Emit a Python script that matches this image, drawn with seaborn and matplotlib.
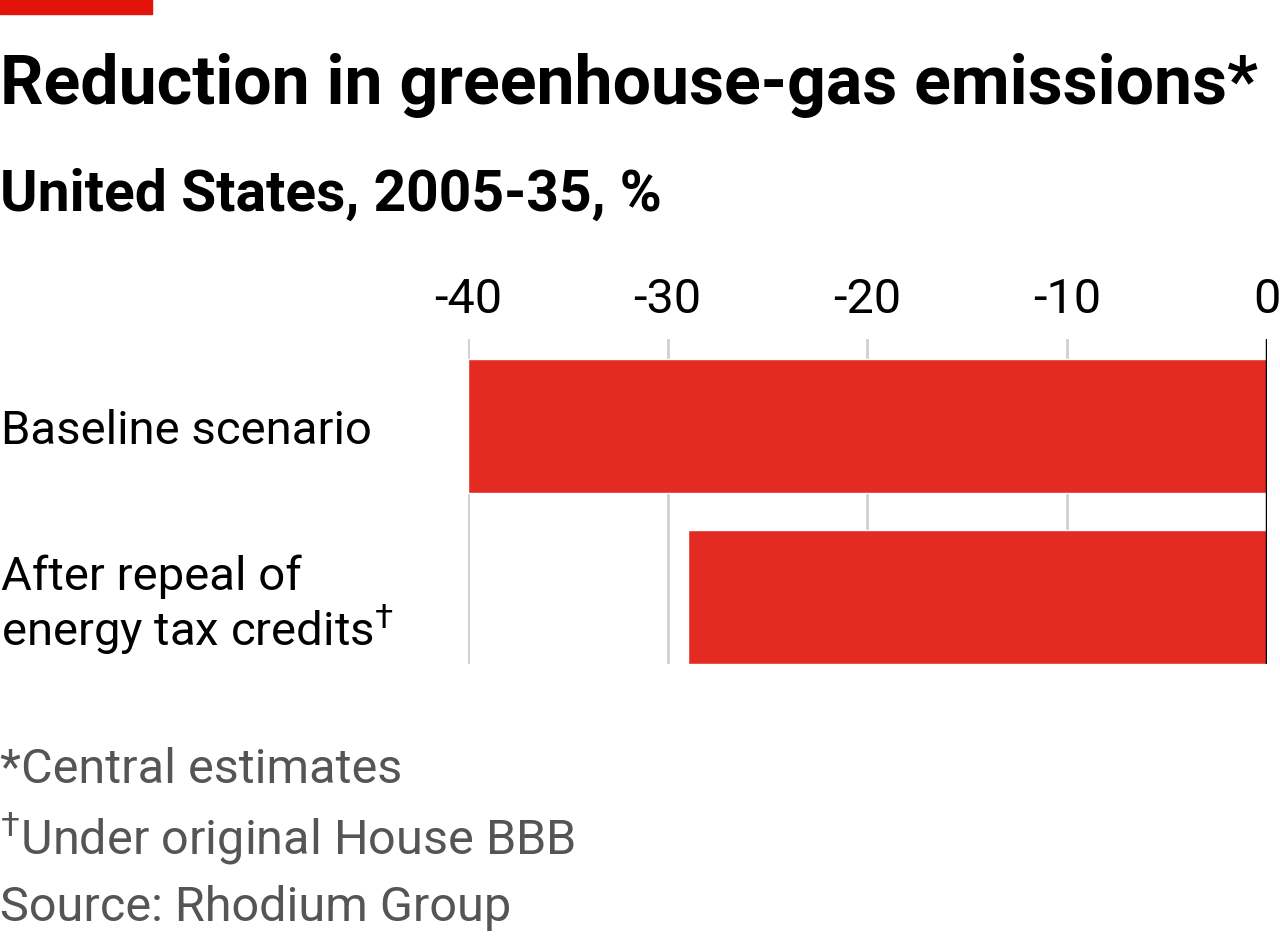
import matplotlib
matplotlib.use("Agg")
import matplotlib.pyplot as plt
import seaborn as sns
import pandas as pd

scenarios = ["Baseline scenario", "After repeal of\nenergy tax credits$^{\\dagger}$"]
reduction = [-40, -29]
x_ticks = [-40, -30, -20, -10, 0]
x_tick_labels = ["-40", "-30", "-20", "-10", "0"]

title = "Reduction in greenhouse-gas emissions*"
subtitle = "United States, 2005-35, %"
notes = ["*Central estimates", "$^{\\dagger}$Under original House BBB", "Source: Rhodium Group"]

sns.set_theme(style="white")
plt.rcParams["font.family"] = ["Roboto", "DejaVu Sans"]
plt.rcParams["mathtext.fontset"] = "custom"
plt.rcParams["mathtext.rm"] = "Roboto"
plt.rcParams["text.color"] = "black"

df = pd.DataFrame({"scenario": scenarios, "value": reduction})

fig = plt.figure(figsize=(12.8, 9.45), dpi=100)
ax = fig.add_axes([467.7 / 1280, 1 - 665 / 945, (1267 - 467.7) / 1280, 325 / 945])

sns.barplot(data=df, x="value", y="scenario", color="#e32b24", width=0.78,
            saturation=1, ax=ax, orient="h")

ax.set_xlim(-40, 0)
ax.set_ylim(1.39, -0.507)
ax.set_xticks(x_ticks)
ax.set_xticklabels(x_tick_labels)
ax.xaxis.tick_top()
ax.tick_params(axis="x", length=0, pad=12, labelsize=35, colors="black")
ax.tick_params(axis="y", length=0, labelsize=34, colors="black", pad=336)
for lab in ax.get_yticklabels():
    lab.set_horizontalalignment("left")
    lab.set_linespacing(1.1)
ax.set_xlabel("")
ax.set_ylabel("")
for s in ax.spines.values():
    s.set_visible(False)
ax.grid(axis="x", color="#d0d0d0", linewidth=2)
ax.set_axisbelow(True)
ax.axvline(0, color="black", linewidth=2.5, zorder=5)

# top red tag
fig.patches.append(plt.Rectangle((0, 1 - 15 / 945), 152 / 1280, 15 / 945,
                                 transform=fig.transFigure, color="#e3120b"))

fig.text(0.0, 1 - 85 / 945, title, fontsize=49, fontweight="bold", va="center", ha="left")
fig.text(0.0, 1 - 195 / 945, subtitle, fontsize=41, fontweight="bold", va="center", ha="left")
for i, n in enumerate(notes):
    fig.text(0.0, 1 - (770 + 69 * i) / 945, n, fontsize=35, color="#555555",
             va="center", ha="left")

fig.savefig("out.png", dpi=100)
